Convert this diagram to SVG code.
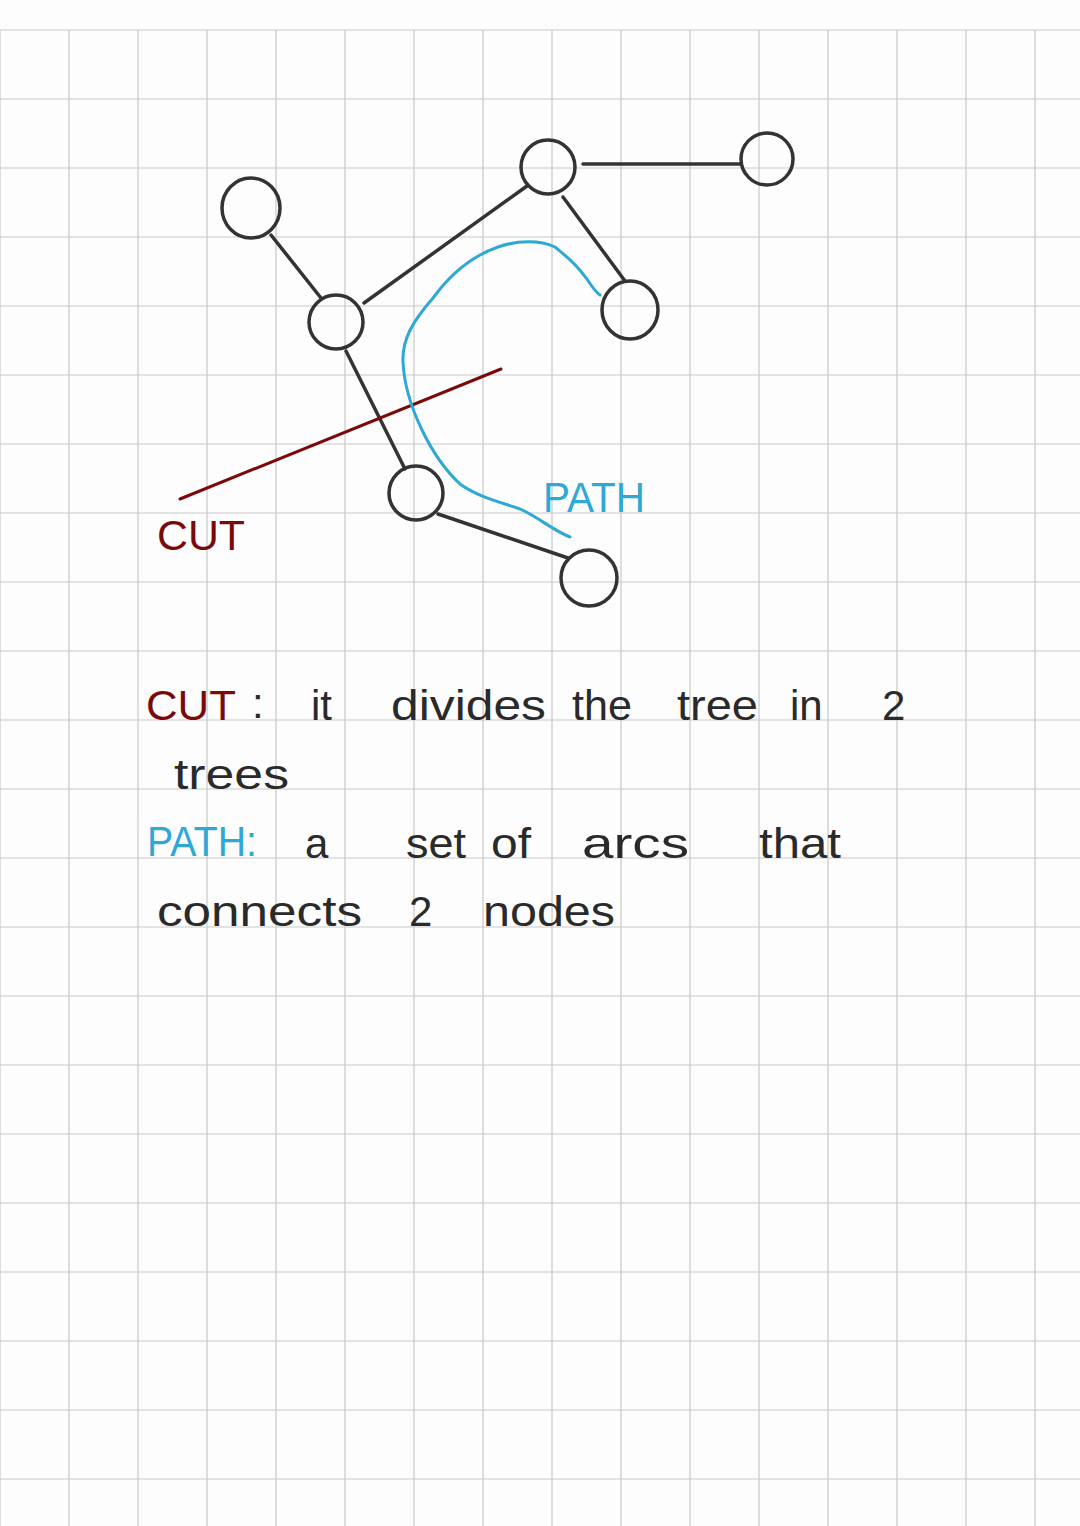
<svg xmlns="http://www.w3.org/2000/svg" width="1080" height="1526" viewBox="0 0 1080 1526">
<style>
.g{stroke:#c9c9c9;stroke-width:1.2}
.n{fill:none;stroke:#333;stroke-width:3.5}
.e{stroke:#333;stroke-width:3.5;stroke-linecap:round;fill:none}
.t{font-family:"Liberation Sans",Arial,sans-serif;font-size:42px;fill:#2a2a2a}
.red{fill:#7a0a0a}
.blue{fill:#2ea8d5}
</style>
<rect width="1080" height="1526" fill="#fdfdfd"/>
<g id="grid">
<path class="g" d="M0 30V1526M69 30V1526M138 30V1526M207 30V1526M276 30V1526M345 30V1526M414 30V1526M483 30V1526M552 30V1526M621 30V1526M690 30V1526M759 30V1526M828 30V1526M897 30V1526M966 30V1526M1035 30V1526"/>
<path class="g" d="M0 30H1080M0 99H1080M0 168H1080M0 237H1080M0 306H1080M0 375H1080M0 444H1080M0 513H1080M0 582H1080M0 651H1080M0 720H1080M0 789H1080M0 858H1080M0 927H1080M0 996H1080M0 1065H1080M0 1134H1080M0 1203H1080M0 1272H1080M0 1341H1080M0 1410H1080M0 1479H1080"/>
</g>
<g id="connectors">
<line class="e" x1="271" y1="235" x2="321" y2="298"/>
<line class="e" x1="364" y1="303" x2="527" y2="186"/>
<line class="e" x1="583" y1="164" x2="741" y2="164"/>
<line class="e" x1="563" y1="197" x2="625" y2="281"/>
<line class="e" x1="346" y1="351" x2="405" y2="469"/>
<line class="e" x1="438" y1="514" x2="568" y2="558"/>
</g>
<g id="node-a"><ellipse class="n" cx="251" cy="208" rx="29" ry="30"/></g>
<g id="node-b"><ellipse class="n" cx="336" cy="322" rx="27" ry="27"/></g>
<g id="node-c"><ellipse class="n" cx="548" cy="167" rx="27" ry="27"/></g>
<g id="node-d"><ellipse class="n" cx="767" cy="159" rx="26" ry="26"/></g>
<g id="node-e"><ellipse class="n" cx="630" cy="310" rx="28" ry="29"/></g>
<g id="node-f"><ellipse class="n" cx="416" cy="493" rx="27" ry="27"/></g>
<g id="node-g"><ellipse class="n" cx="589" cy="578" rx="28" ry="28"/></g>
<g id="cut">
<line x1="180" y1="499" x2="501" y2="369" stroke="#7a0a0a" stroke-width="3" stroke-linecap="round"/>
<text class="t red" x="157" y="550" textLength="88" lengthAdjust="spacingAndGlyphs">CUT</text>
</g>
<g id="path">
<path d="M600 295 C592 289 590 282 583 274 C574 262 566 256 555 247 C540 240 518 240 498 247 C472 256 452 272 433 298 C412 322 402 340 403 362 C404 385 410 405 422 430 C434 455 445 470 460 484 C478 497 500 502 520 509 C540 518 552 530 570 537" fill="none" stroke="#2ea8d5" stroke-width="3" stroke-linecap="round"/>
<text class="t blue" x="543" y="512" font-size="40" textLength="102" lengthAdjust="spacingAndGlyphs">PATH</text>
</g>
<g id="notes">
<text class="t red" x="146" y="720" textLength="90" lengthAdjust="spacingAndGlyphs">CUT</text>
<text class="t" x="252" y="718">:</text>
<text class="t" x="311" y="720">it</text>
<text class="t" x="391" y="720" textLength="155" lengthAdjust="spacingAndGlyphs">divides</text>
<text class="t" x="572" y="720" textLength="60" lengthAdjust="spacingAndGlyphs">the</text>
<text class="t" x="677" y="720" textLength="81" lengthAdjust="spacingAndGlyphs">tree</text>
<text class="t" x="790" y="720">in</text>
<text class="t" x="882" y="720" font-size="46">2</text>
<text class="t" x="174" y="789" textLength="115" lengthAdjust="spacingAndGlyphs">trees</text>
<text class="t blue" x="147" y="856" textLength="110" lengthAdjust="spacingAndGlyphs">PATH:</text>
<text class="t" x="305" y="858" font-size="44">a</text>
<text class="t" x="406" y="858" textLength="60" lengthAdjust="spacingAndGlyphs">set</text>
<text class="t" x="491" y="858" textLength="40" lengthAdjust="spacingAndGlyphs">of</text>
<text class="t" x="582" y="858" textLength="107" lengthAdjust="spacingAndGlyphs">arcs</text>
<text class="t" x="759" y="858" textLength="82" lengthAdjust="spacingAndGlyphs">that</text>
<text class="t" x="157" y="926" textLength="205" lengthAdjust="spacingAndGlyphs">connects</text>
<text class="t" x="409" y="926">2</text>
<text class="t" x="483" y="926" textLength="132" lengthAdjust="spacingAndGlyphs">nodes</text>
</g>
</svg>
